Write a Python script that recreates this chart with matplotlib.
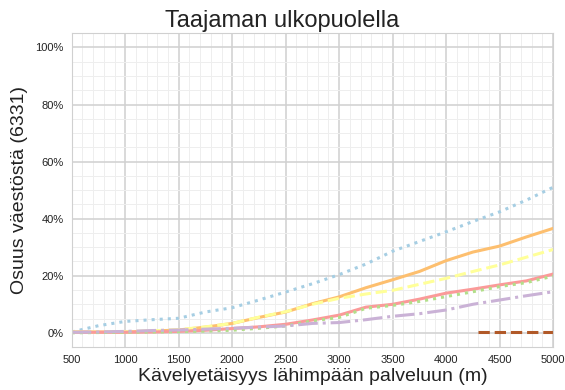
import numpy as np
import matplotlib
matplotlib.use("Agg")
import matplotlib.pyplot as plt
import seaborn as sns
from matplotlib.ticker import MultipleLocator, FuncFormatter

sns.set_style("whitegrid")
plt.rcParams['font.family'] = ['Liberation Sans', 'DejaVu Sans']

# Walking distance (m)
dist = [500, 750, 1000, 1250, 1500, 1750, 2000, 2250, 2500, 2750,
        3000, 3250, 3500, 3750, 4000, 4250, 4500, 4750, 5000]

# Share of population (%)
blue = [0.3, 2.5, 4.0, 4.6, 5.1, 7.3, 8.8, 11.5, 14.3, 17.2,
        20.4, 24.1, 28.6, 32.0, 35.4, 39.0, 42.4, 46.5, 51.0]
orange = [0.3, 0.3, 0.3, 0.6, 1.0, 2.0, 3.3, 5.4, 7.3, 10.2,
          12.6, 15.8, 18.6, 21.5, 25.3, 28.3, 30.4, 33.6, 36.6]
yellow = [0.3, 0.3, 0.4, 0.7, 1.1, 2.1, 3.3, 5.5, 7.4, 10.0,
          12.1, 13.6, 14.9, 17.0, 19.1, 21.5, 23.8, 26.5, 29.2]
red = [0.2, 0.2, 0.2, 0.3, 0.5, 0.9, 1.5, 2.1, 3.0, 4.5,
       6.2, 9.0, 10.0, 11.8, 13.9, 15.3, 16.8, 18.2, 20.6]
green = [0.0, 0.1, 0.2, 0.3, 0.4, 0.6, 0.9, 1.6, 2.4, 4.2,
         5.4, 8.6, 9.6, 11.0, 12.7, 14.4, 16.2, 17.6, 19.9]
purple = [0.2, 0.3, 0.5, 0.8, 1.0, 1.3, 1.6, 2.0, 2.4, 3.3,
          3.6, 4.6, 5.8, 6.7, 8.0, 10.0, 11.5, 13.0, 14.4]
brown_dist = [4300, 4500, 4750, 5000]
brown = [0.2, 0.2, 0.2, 0.2]

fig = plt.figure(figsize=(5.65, 3.9), dpi=100)
ax = fig.add_axes([0.127, 0.110, 0.852, 0.805])

lw = 2.2
ax.plot(dist, blue, color='#a6cee3', lw=lw, ls=':')
ax.plot(dist, orange, color='#fdbf6f', lw=lw, ls='-')
ax.plot(dist, yellow, color='#ffff99', lw=lw, ls='--')
ax.plot(dist, red, color='#fb9a99', lw=lw, ls='-')
ax.plot(dist, green, color='#b2df8a', lw=lw, ls=':')
ax.plot(dist, purple, color='#cab2d6', lw=lw, ls='-.')
ax.plot(brown_dist, brown, color='#b15928', lw=lw, ls='--')

ax.set_xlim(500, 5000)
ax.set_ylim(-5, 105)
ax.xaxis.set_major_locator(MultipleLocator(500))
ax.xaxis.set_minor_locator(MultipleLocator(100))
ax.yaxis.set_major_locator(MultipleLocator(20))
ax.yaxis.set_minor_locator(MultipleLocator(5))
ax.yaxis.set_major_formatter(FuncFormatter(lambda v, p: f"{v:.0f}%"))

ax.grid(which='major', color='#d0d0d0', lw=1.1)
ax.grid(which='minor', color='#eeeeee', lw=0.7)
for s in ax.spines.values():
    s.set_color('#d0d0d0')
ax.tick_params(axis='both', which='major', labelsize=8, colors='#222222', length=0, pad=6)
ax.tick_params(which='minor', length=0)

# title is centred on the whole figure, not the axes
fig.text(0.5, 0.93, 'Taajaman ulkopuolella', fontsize=17, color='#222222',
         ha='center', va='baseline')
ax.set_xlabel('Kävelyetäisyys lähimpään palveluun (m)', fontsize=14, color='#222222', labelpad=2)
ax.set_ylabel('Osuus väestöstä (6331)', fontsize=14, color='#222222', labelpad=5)

fig.savefig('out.png', dpi=100)
